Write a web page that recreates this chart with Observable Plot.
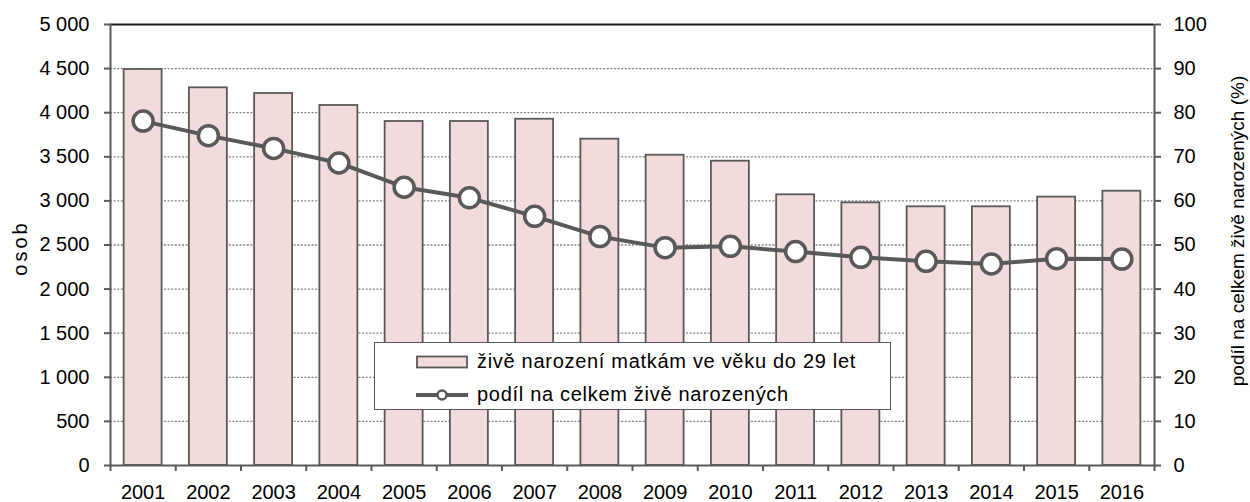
<!DOCTYPE html>
<html>
<head>
<meta charset="utf-8">
<script src="https://cdn.jsdelivr.net/npm/d3@7"></script>
<script src="https://cdn.jsdelivr.net/npm/@observablehq/plot@0.6"></script>
<style>
  body { margin: 0; background: #fff; font-family: "Liberation Sans", Arial, sans-serif; }
  #wrap { position: relative; width: 1250px; height: 502px; }
  .ytitle { position: absolute; white-space: nowrap; font-size: 19px; color: #000; transform: translate(-50%, -50%) rotate(-90deg); }
  #legend { position: absolute; left: 374px; top: 342px; width: 515px; height: 66px; border: 1.5px solid #595959; background: #fff; font-size: 20px; letter-spacing: 0.7px; color: #000; }
  .lrow { position: absolute; left: 41px; display: flex; align-items: center; white-space: nowrap; }
  .lrow svg { margin-right: 9px; }
</style>
</head>
<body>
<div id="wrap"></div>
<script>
const years = [2001, 2002, 2003, 2004, 2005, 2006, 2007, 2008, 2009, 2010, 2011, 2012, 2013, 2014, 2015, 2016];
const births = [4490, 4282, 4218, 4082, 3900, 3900, 3926, 3700, 3518, 3450, 3069, 2978, 2933, 2933, 3043, 3110];
const share = [78.1, 74.8, 71.9, 68.6, 63.1, 60.7, 56.5, 51.9, 49.4, 49.7, 48.5, 47.2, 46.3, 45.7, 46.9, 46.8];
const leftTicks = d3.range(0, 5001, 500);
const rightTickLabels = d3.range(0, 101, 10);
const seriesBars = "živě narození matkám ve věku do 29 let";
const seriesLine = "podíl na celkem živě narozených";
const leftTitle = "osob";
const rightTitle = "podíl na celkem živě narozených (%)";

const data = years.map((y, i) => ({year: y, births: births[i], share: share[i]}));
const k = 5000 / 100; // right axis maps 0–100 % onto 0–5000
const boundaries = [years[0] - 0.5, ...years.map(y => y + 0.5)];
const fmt = d3.formatLocale({decimal: ",", thousands: " ", grouping: [3], currency: ["", ""]}).format(",");
const dark = "#595959";
const half = 0.291;

const chart = Plot.plot({
  width: 1250,
  height: 502,
  marginLeft: 110,
  marginRight: 96,
  marginTop: 24,
  marginBottom: 37,
  style: {fontFamily: "'Liberation Sans', Arial, sans-serif", fontSize: "20px", background: "white", color: "black"},
  x: {type: "linear", domain: [years[0] - 0.5, years[years.length - 1] + 0.5]},
  y: {domain: [0, 5000]},
  marks: [
    Plot.ruleY(leftTicks.filter(d => d > 0 && d < 5000), {stroke: "#808080", strokeWidth: 1.3, strokeDasharray: "2,1.6"}),
    Plot.rectY(data, {x1: d => d.year - half, x2: d => d.year + half, y1: 0, y2: "births", fill: "#f2dcdb", stroke: dark, strokeWidth: 1.8}),
    Plot.ruleY([5000], {stroke: "#1a1a1a", strokeWidth: 2}),
    Plot.ruleY([0], {stroke: dark, strokeWidth: 2}),
    Plot.ruleX(boundaries.filter((d, i) => i === 0 || i === boundaries.length - 1), {stroke: dark, strokeWidth: 2}),
    Plot.axisY({anchor: "left", ticks: leftTicks, tickSize: 6, tickPadding: 15, tickFormat: fmt, label: null, stroke: dark, strokeWidth: 2, color: "black"}),
    Plot.axisY({anchor: "right", ticks: rightTickLabels.map(d => d * k), tickSize: 6, tickPadding: 13, tickFormat: d => String(d / k), label: null, stroke: dark, strokeWidth: 2, color: "black", textAnchor: "start"}),
    Plot.axisX({ticks: boundaries, tickSize: 6, tickFormat: () => "", label: null, stroke: dark, strokeWidth: 2}),
    Plot.axisX({ticks: years, tickSize: 0, tickPadding: 19, tickFormat: d => String(d), label: null, color: "black"}),
    Plot.line(data, {x: "year", y: d => d.share * k, stroke: dark, strokeWidth: 4}),
    Plot.dot(data, {x: "year", y: d => d.share * k, r: 10, fill: "white", stroke: dark, strokeWidth: 3.5})
  ]
});

const wrap = document.getElementById("wrap");
wrap.appendChild(chart);

const lt = document.createElement("div");
lt.className = "ytitle"; lt.textContent = leftTitle;
lt.style.left = "20px"; lt.style.top = "248px";
lt.style.fontSize = "20px"; lt.style.letterSpacing = "3px";
wrap.appendChild(lt);

const rt = document.createElement("div");
rt.className = "ytitle"; rt.textContent = rightTitle;
rt.style.left = "1238px"; rt.style.top = "231px";
wrap.appendChild(rt);

const legend = document.createElement("div");
legend.id = "legend";
legend.innerHTML = `
  <div class="lrow" style="top:7px"><svg width="52" height="14"><rect x="1" y="1.5" width="50" height="11" fill="#f2dcdb" stroke="${dark}" stroke-width="1.8"/></svg><span></span></div>
  <div class="lrow" style="top:40px"><svg width="52" height="14"><line x1="0" x2="52" y1="7" y2="7" stroke="${dark}" stroke-width="4"/><circle cx="26" cy="7" r="4.5" fill="white" stroke="${dark}" stroke-width="2.5"/></svg><span></span></div>`;
const spans = legend.querySelectorAll("span");
spans[0].textContent = seriesBars;
spans[1].textContent = seriesLine;
wrap.appendChild(legend);
</script>
</body>
</html>
